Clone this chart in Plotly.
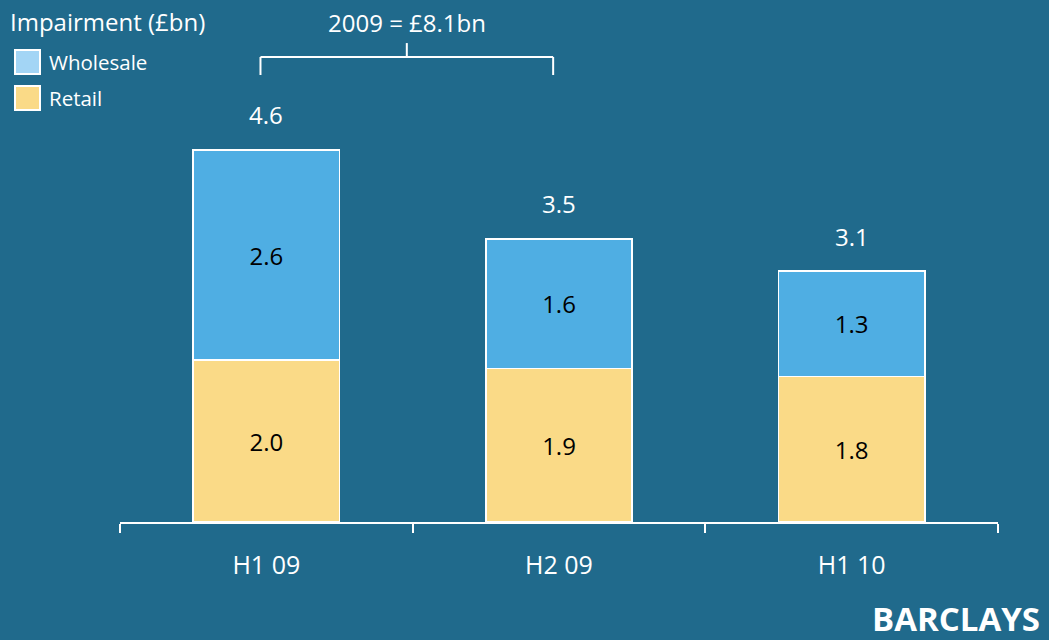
import plotly.graph_objects as go

periods = ['H1 09', 'H2 09', 'H1 10']
retail = [2.0, 1.9, 1.8]
wholesale = [2.6, 1.6, 1.3]
totals = [4.6, 3.5, 3.1]
bracket_text = '2009 = £8.1bn'

bg = '#206A8C'
blue = '#4FAEE3'
yellow = '#FADA87'
font = 'Open Sans, Noto Sans, sans-serif'

fig = go.Figure()
fig.add_trace(go.Bar(x=periods, y=retail, name='Retail', marker=dict(color=yellow, line=dict(color='white', width=1.5)),
                     text=['%.1f' % v for v in retail], textposition='inside', insidetextanchor='middle',
                     textfont=dict(color='black', size=24, family=font), textangle=0))
fig.add_trace(go.Bar(x=periods, y=wholesale, name='Wholesale', marker=dict(color=blue, line=dict(color='white', width=1.5)),
                     text=['%.1f' % v for v in wholesale], textposition='inside', insidetextanchor='middle',
                     textfont=dict(color='black', size=24, family=font), textangle=0))

# totals above bars
for p, t in zip(periods, totals):
    fig.add_annotation(x=p, y=t, text='%.1f' % t, showarrow=False, yanchor='middle', yshift=35,
                       font=dict(color='white', size=24, family=font))

# 2009 bracket
yb, yend, ytop = 5.748, 5.525, 5.92
x0, x1 = -0.02, 0.98
xm = (x0 + x1) / 2
for sx0, sy0, sx1, sy1 in [(x0, yb, x1, yb), (x0, yb, x0, yend), (x1, yb, x1, yend), (xm, yb, xm, ytop)]:
    fig.add_shape(type='line', xref='x', yref='y', x0=sx0, y0=sy0, x1=sx1, y1=sy1,
                  line=dict(color='white', width=2))
fig.add_annotation(x=xm, y=6.18, text=bracket_text, showarrow=False, yanchor='middle',
                   font=dict(color='white', size=24, family=font))

# title + manual legend
fig.add_annotation(xref='paper', yref='paper', x=-112/878, y=1 - 21/522, xanchor='left', yanchor='middle',
                   text='Impairment (£bn)', showarrow=False, font=dict(color='white', size=24, family=font))
legend_items = [('Wholesale', '#A3D5F5', 62), ('Retail', yellow, 98)]
for name, col, yc in legend_items:
    fig.add_shape(type='rect', xref='paper', yref='paper',
                  x0=(15 - 120) / 878, x1=(40 - 120) / 878, y0=1 - (yc + 12) / 522, y1=1 - (yc - 12) / 522,
                  fillcolor=col, line=dict(color='white', width=2))
    fig.add_annotation(xref='paper', yref='paper', x=(47 - 120) / 878, y=1 - yc / 522, xanchor='left', yanchor='middle',
                       text=name, showarrow=False, font=dict(color='white', size=20.5, family=font))

# logo text
fig.add_annotation(xref='paper', yref='paper', x=(1042 - 120) / 878, y=-(618 - 522) / 522, xanchor='right', yanchor='middle',
                   text='<b>BARCLAYS</b>', showarrow=False, font=dict(color='white', size=33, family=font))

fig.update_layout(
    width=1049, height=640,
    paper_bgcolor=bg, plot_bgcolor=bg,
    barmode='stack', bargap=0.5,
    showlegend=False,
    margin=dict(l=120, r=51, t=0, b=118),
)
fig.update_xaxes(showline=True, linecolor='white', linewidth=2, ticks='outside', tickson='boundaries',
                 ticklen=9, tickwidth=2, tickcolor='white', showgrid=False, ticklabelstandoff=20,
                 tickfont=dict(color='white', size=25, family=font), range=[-0.5, 2.5])
fig.update_yaxes(range=[0, 522 / 80.9], visible=False, showgrid=False)

fig.write_html('out.html', config={'displayModeBar': False}, post_script="document.body.style.margin='0';")
